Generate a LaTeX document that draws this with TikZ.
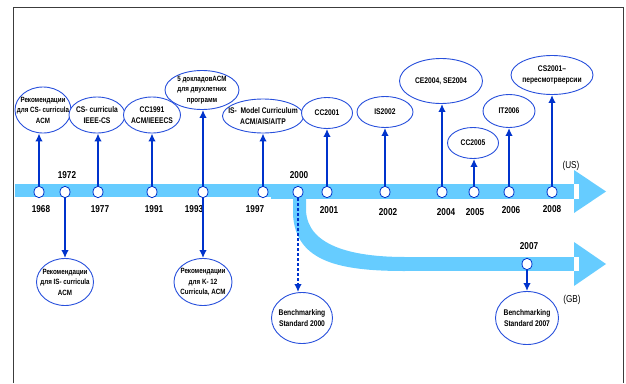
\documentclass[tikz,border=0pt]{standalone}
\usepackage{fontspec}
\setmainfont{Liberation Sans}[FakeStretch=0.82]
\usetikzlibrary{shapes.geometric,arrows.meta,positioning}
\definecolor{bandblue}{RGB}{102,204,255}
\definecolor{lineblue}{RGB}{0,51,204}
\definecolor{bubblue}{RGB}{40,80,220}
\definecolor{framegray}{RGB}{60,60,60}
\tikzset{
  dot/.style     = {ellipse, draw=lineblue, fill=white, line width=0.8pt,
                    minimum width=10, minimum height=11.5, inner sep=0pt},
  bub/.style     = {ellipse, draw=bubblue, fill=white, line width=0.9pt, inner sep=0pt},
  btxt/.style    = {align=center, inner sep=0pt, font=\bfseries\fontsize{8.2}{11}\selectfont},
  smalltxt/.style= {btxt, font=\bfseries\fontsize{7.6}{10.5}\selectfont},
  yr/.style      = {inner sep=0pt, font=\bfseries\fontsize{10}{10}\selectfont},
  ctry/.style    = {inner sep=0pt, font=\fontsize{10}{10}\selectfont},
  line/.style    = {draw=lineblue, line width=2.5pt, -{Latex[length=8pt,width=7.5pt]}},
  dline/.style   = {line, line width=2.8pt, dash pattern=on 3pt off 2pt}
}

\begin{document}
\begin{tikzpicture}[x=1pt,y=-1pt]
	\useasboundingbox (0,0) rectangle (626,383);
	\draw [framegray, line width=0.9pt] (13,383) -- (13,7) -- (623,7) -- (623,383);
	% Bands
	\fill [bandblue] (15,184) rectangle (272,197);
	\fill [bandblue] (271,183.5) rectangle (574,199);
	\fill [bandblue] (574,170) -- (606,191.5) -- (574,213) -- cycle;
	\fill [white] (574,183.5) rectangle (579,199);
	\fill [bandblue] (293,197) -- (293,215) .. controls (296,262) and (340,271) .. (405,271) -- (405,257) .. controls (350,257) and (307,245) .. (306,210) -- (306,197) -- cycle;
	\fill [bandblue] (404,257) rectangle (574,271);
	\fill [bandblue] (574,242) -- (606,264) -- (574,286) -- cycle;
	\fill [white] (574,257) rectangle (579,271);
	\node [ctry] (us) at (571,166) {(US)};
	\node [ctry] (gb) at (572,300) {(GB)};
	% Points in time
	\node [dot] (c1968) at (39,192) {};
	\node [dot] (c1972) at (65,192) {};
	\node [dot] (c1977) at (98,192) {};
	\node [dot] (c1991) at (152,192) {};
	\node [dot] (c1993) at (203,192) {};
	\node [dot] (c1997) at (263,192) {};
	\node [dot] (c2000) at (298,192) {};
	\node [dot] (c2001) at (327,192) {};
	\node [dot] (c2002) at (385,192) {};
	\node [dot] (c2004) at (442,192) {};
	\node [dot] (c2005) at (474,192) {};
	\node [dot] (c2006) at (509,192) {};
	\node [dot] (c2008) at (552,192) {};
	\node [dot] (c2007) at (527,264) {};
	% Years
	\node [yr, below=7.5pt of c1968, xshift=2pt] (y1968) {1968};
	\node [yr, above=6.6pt of c1972, xshift=2pt] (y1972) {1972};
	\node [yr, below=7.5pt of c1977, xshift=2pt] (y1977) {1977};
	\node [yr, below=7.5pt of c1991, xshift=2pt] (y1991) {1991};
	\node [yr, below=7.5pt of c1993, xshift=-9pt] (y1993) {1993};
	\node [yr, below=7.5pt of c1997, xshift=-8pt] (y1997) {1997};
	\node [yr, above=6.6pt of c2000, xshift=1pt] (y2000) {2000};
	\node [yr, below=8.5pt of c2001, xshift=2pt] (y2001) {2001};
	\node [yr, below=10.5pt of c2002, xshift=3pt] (y2002) {2002};
	\node [yr, below=10.5pt of c2004, xshift=4pt] (y2004) {2004};
	\node [yr, below=10.5pt of c2005, xshift=1pt] (y2005) {2005};
	\node [yr, below=8.5pt of c2006, xshift=2pt] (y2006) {2006};
	\node [yr, below=7.5pt of c2008] (y2008) {2008};
	\node [yr, above=7.6pt of c2007, xshift=2pt] (y2007) {2007};
	% Upper events (US)
	\node [bub, minimum width=56, minimum height=46, label={[smalltxt]center:{Рекомендации\\для CS- curricula\\ACM}}] (e1968) at (43,110) {}; \path [line] (c1968) -- (c1968 |- e1968.south);
	\node [bub, minimum width=56, minimum height=36, label={[btxt]center:{CS- curricula\\IEEE-CS}}] (e1977) at (97,115) {}; \path [line] (c1977) -- (c1977 |- e1977.south);
	\node [bub, minimum width=57, minimum height=36, label={[btxt]center:{CC1991\\ACM/IEEECS}}] (e1991) at (152,115) {}; \path [line] (c1991) -- (c1991 |- e1991.south);
	\node [bub, minimum width=74, minimum height=39, label={[smalltxt]center:{5 докладовACM\\для двухлетних\\программ}}] (e1993) at (202,90) {}; \path [line] (c1993) -- (c1993 |- e1993.south);
	\node [bub, minimum width=81, minimum height=34, label={[btxt]center:{IS-\ \ Model Curriculum\\ACM/AIS/AITP}}] (e1997) at (263,116) {}; \path [line] (c1997) -- (c1997 |- e1997.south);
	\node [bub, minimum width=51, minimum height=31, label={[btxt]center:CC2001}] (e2001) at (327,113) {}; \path [line] (c2001) -- (c2001 |- e2001.south);
	\node [bub, minimum width=56, minimum height=31, label={[btxt]center:IS2002}] (e2002) at (385,112) {}; \path [line] (c2002) -- (c2002 |- e2002.south);
	\node [bub, minimum width=83, minimum height=45, label={[btxt]center:{CE2004, SE2004}}] (e2004) at (441,81) {}; \path [line] (c2004) -- (c2004 |- e2004.south);
	\node [bub, minimum width=51, minimum height=31, label={[btxt]center:CC2005}] (e2005) at (473,143) {}; \path [line] (c2005) -- (c2005 |- e2005.south);
	\node [bub, minimum width=52, minimum height=33, label={[btxt]center:IT2006}] (e2006) at (509,111) {}; \path [line] (c2006) -- (c2006 |- e2006.south);
	\node [bub, minimum width=82, minimum height=39, label={[btxt]center:{CS2001--\\пересмотрверсии}}] (e2008) at (552,75) {}; \path [line] (c2008) -- (c2008 |- e2008.south);
	% Lower events
	\node [bub, minimum width=57, minimum height=47, label={[smalltxt]center:{Рекомендации\\для IS- curricula\\ACM}}] (e1972) at (65,282) {}; \path [line] (c1972) -- (c1972 |- e1972.north);
	\node [bub, minimum width=58, minimum height=47, label={[smalltxt]center:{Рекомендации\\для K- 12\\Curricula, ACM}}] (k1993) at (203,282) {}; \path [line] (c1993) -- (c1993 |- k1993.north);
	\node [bub, minimum width=61, minimum height=51, label={[btxt]center:{Benchmarking\\Standard 2000}}] (e2000) at (302,318) {}; \path [dline] (c2000) -- (c2000 |- e2000.north);
	% (GB)
	\node [bub, minimum width=63, minimum height=53, label={[btxt]center:{Benchmarking\\Standard 2007}}] (e2007) at (527,318) {}; \path [line] (c2007) -- (c2007 |- e2007.north);
\end{tikzpicture}
\end{document}
